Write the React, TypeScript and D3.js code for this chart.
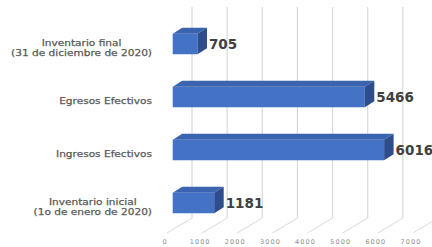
import React, { useEffect, useRef } from "react";
import * as d3 from "d3";

const categories: string[][] = [
  ["Inventario final", "(31 de diciembre de 2020)"],
  ["Egresos Efectivos"],
  ["Ingresos Efectivos"],
  ["Inventario inicial", "(1o de enero de 2020)"],
];
const values: number[] = [705, 5466, 6016, 1181];
const tickValues: number[] = [0, 1000, 2000, 3000, 4000, 5000, 6000, 7000];

export default function App() {
  const ref = useRef<SVGSVGElement | null>(null);

  useEffect(() => {
    const svg = d3.select(ref.current);
    svg.selectAll("*").remove();

    const keys = categories.map((_, i) => String(i));
    const x = d3.scaleLinear().domain([0, 7000]).range([0, 246]);
    const y = d3
      .scaleBand<string>()
      .domain(keys)
      .range([17.5, 229.5])
      .paddingInner(0.613)
      .paddingOuter(0.3065);

    const backX0 = 192;
    const barX0 = 172.7;
    const axisX0 = 165;
    const wallTop = 7;
    const wallBottom = 218;
    const floorDx = -25;
    const floorDy = 15;
    const dx = 9.5;
    const dy = 6;
    const bw = y.bandwidth();

    const grid = svg.append("g");
    tickValues.forEach((t) => {
      const xb = backX0 + x(t);
      grid
        .append("line")
        .attr("x1", xb)
        .attr("x2", xb)
        .attr("y1", wallTop)
        .attr("y2", wallBottom)
        .attr("stroke", "#d9d9d9")
        .attr("stroke-width", 1.2);
      grid
        .append("line")
        .attr("x1", xb)
        .attr("y1", wallBottom)
        .attr("x2", xb + floorDx)
        .attr("y2", wallBottom + floorDy)
        .attr("stroke", "#d9d9d9")
        .attr("stroke-width", 1);
    });

    svg
      .append("g")
      .selectAll("text")
      .data(tickValues)
      .join("text")
      .attr("x", (d) => axisX0 + x(d))
      .attr("y", 242)
      .attr("text-anchor", "middle")
      .attr("dominant-baseline", "middle")
      .attr("font-family", "'DejaVu Sans', sans-serif")
      .attr("font-size", 6.5)
      .attr("letter-spacing", 1.1)
      .attr("fill", "#8c8c8c")
      .text((d) => String(d));

    const bars = svg.append("g");
    values.forEach((v, i) => {
      const yy = y(keys[i]) as number;
      const w = x(v);
      const x1 = barX0 + w;
      bars
        .append("rect")
        .attr("x", barX0)
        .attr("y", yy)
        .attr("width", w)
        .attr("height", bw)
        .attr("fill", "#4472C4");
      bars
        .append("path")
        .attr(
          "d",
          `M${barX0},${yy}L${barX0 + dx},${yy - dy}L${x1 + dx},${yy - dy}L${x1},${yy}Z`
        )
        .attr("fill", "#3B64B0");
      bars
        .append("path")
        .attr(
          "d",
          `M${x1},${yy}L${x1 + dx},${yy - dy}L${x1 + dx},${yy + bw - dy}L${x1},${yy + bw}Z`
        )
        .attr("fill", "#2E4D8C");
      bars
        .append("text")
        .attr("x", x1 + dx + 2)
        .attr("y", yy + bw / 2)
        .attr("dominant-baseline", "central")
        .attr("font-family", "'DejaVu Sans', sans-serif")
        .attr("font-weight", "bold")
        .attr("font-size", 13.5)
        .attr("fill", "#404040")
        .text(String(v));
    });

    const labRight = 152;
    const lineH = 10;
    const stretch = 1.15;
    categories.forEach((lines, i) => {
      const cy = (y(keys[i]) as number) + bw / 2 + 3.5;
      const g = svg.append("g");
      const texts = lines.map((l, j) =>
        g
          .append("text")
          .attr("y", cy + (j - (lines.length - 1) / 2) * lineH)
          .attr("dominant-baseline", "central")
          .attr("text-anchor", "middle")
          .attr("font-family", "'DejaVu Sans', sans-serif")
          .attr("font-size", 9.2)
          .attr("fill", "#595959")
          .attr("stroke", "#595959")
          .attr("stroke-width", 0.25)
          .text(l)
      );
      const widths = texts.map((t) => (t.node() as SVGTextElement).getComputedTextLength());
      const maxW = (d3.max(widths) || 0) * stretch;
      texts.forEach((t, j) =>
        t
          .attr("x", labRight - maxW / 2)
          .attr("textLength", widths[j] * stretch)
          .attr("lengthAdjust", "spacingAndGlyphs")
      );
    });
  }, []);

  return (
    <svg
      ref={ref}
      width={432}
      height={247}
      style={{ position: "absolute", left: 0, top: 0, background: "#fff" }}
    />
  );
}
